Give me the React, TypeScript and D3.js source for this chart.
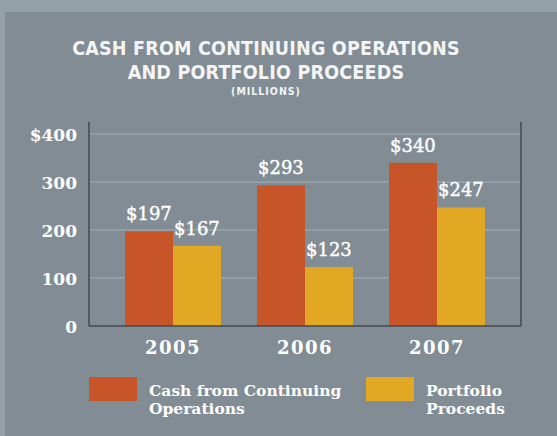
import React from "react";
import * as d3 from "d3";

const years = ["2005", "2006", "2007"];
const cashOps = [197, 293, 340];
const portfolio = [167, 123, 247];
const yTicks = [0, 100, 200, 300, 400];
const seriesNames = ["Cash from Continuing Operations", "Portfolio Proceeds"];
const titleLines = ["CASH FROM CONTINUING OPERATIONS", "AND PORTFOLIO PROCEEDS"];
const subtitle = "(MILLIONS)";

const W = 557;
const H = 436;
const colors = ["#C85527", "#E2A823"];

export default function App() {
  const x = d3.scaleBand<string>().domain(years).range([107, 503]).paddingInner(36 / 132).paddingOuter(18 / 132);
  const y = d3.scaleLinear().domain([0, 400]).range([326, 134]);
  const inner = d3.scaleBand<number>().domain([0, 1]).range([0, x.bandwidth()]);
  const series = [cashOps, portfolio];
  const serif = "'DejaVu Serif', serif";
  const left = 89;
  const right = 521;
  const top = y(425);

  return (
    <svg width={W} height={H} style={{ position: "absolute", left: 0, top: 0 }}>
      <rect x={0} y={0} width={W} height={H} fill="#95A1A8" />
      <rect x={5} y={12} width={W - 5} height={H - 12} fill="#818C94" />
      {titleLines.map((t, i) => (
        <text key={t} x={266} y={55 + i * 23.5} textAnchor="middle" fill="#F4F4F4"
          style={{ fontFamily: "'DejaVu Sans Condensed', 'DejaVu Sans', sans-serif", fontWeight: 700, fontSize: 19.5, letterSpacing: 0.2 }}>
          {t}
        </text>
      ))}
      <text x={266} y={95} textAnchor="middle" fill="#F4F4F4"
        style={{ fontFamily: "'DejaVu Sans Condensed', 'DejaVu Sans', sans-serif", fontWeight: 700, fontSize: 10.5, letterSpacing: 1 }}>
        {subtitle}
      </text>
      {yTicks.filter((t) => t > 0).map((t) => (
        <line key={t} x1={left} x2={right} y1={y(t)} y2={y(t)} stroke="#98A4AB" strokeWidth={1.5} />
      ))}
      {yTicks.map((t) => (
        <text key={t} x={77} y={y(t) + 7} textAnchor="end" fill="#FFFFFF"
          style={{ fontFamily: serif, fontWeight: 700, fontSize: 17 }}>
          {t === 400 ? `$${t}` : t}
        </text>
      ))}
      {years.map((yr, i) =>
        series.map((s, j) => {
          const bx = (x(yr) as number) + (inner(j) as number);
          return (
            <g key={yr + j}>
              <rect x={bx} y={y(s[i])} width={inner.bandwidth()} height={y(0) - y(s[i])} fill={colors[j]} />
              <text x={bx + 1} y={y(s[i]) - 11} fill="#FFFFFF" stroke="#FFFFFF" strokeWidth={0.4} style={{ fontFamily: serif, fontSize: 18 }}>
                {`$${s[i]}`}
              </text>
            </g>
          );
        })
      )}
      <line x1={left} x2={left} y1={top} y2={326} stroke="#45484D" strokeWidth={1.5} />
      <line x1={right} x2={right} y1={top} y2={326} stroke="#45484D" strokeWidth={1.5} />
      <line x1={left} x2={right} y1={326} y2={326} stroke="#45484D" strokeWidth={1.5} />
      {years.map((yr) => (
        <text key={yr} x={(x(yr) as number) + x.bandwidth() / 2} y={354} textAnchor="middle" fill="#FFFFFF"
          style={{ fontFamily: serif, fontWeight: 700, fontSize: 18, letterSpacing: 1.5 }}>
          {yr}
        </text>
      ))}
      {[
        { sx: 89, tx: 149, lines: ["Cash from Continuing", "Operations"] },
        { sx: 366, tx: 426, lines: ["Portfolio", "Proceeds"] },
      ].map((l, i) => (
        <g key={seriesNames[i]}>
          <rect x={l.sx} y={377} width={48} height={24} fill={colors[i]} />
          {l.lines.map((ln, k) => (
            <text key={ln} x={l.tx} y={396 + k * 18} fill="#FFFFFF"
              style={{ fontFamily: serif, fontWeight: 700, fontSize: 15.5 }}>
              {ln}
            </text>
          ))}
        </g>
      ))}
    </svg>
  );
}
